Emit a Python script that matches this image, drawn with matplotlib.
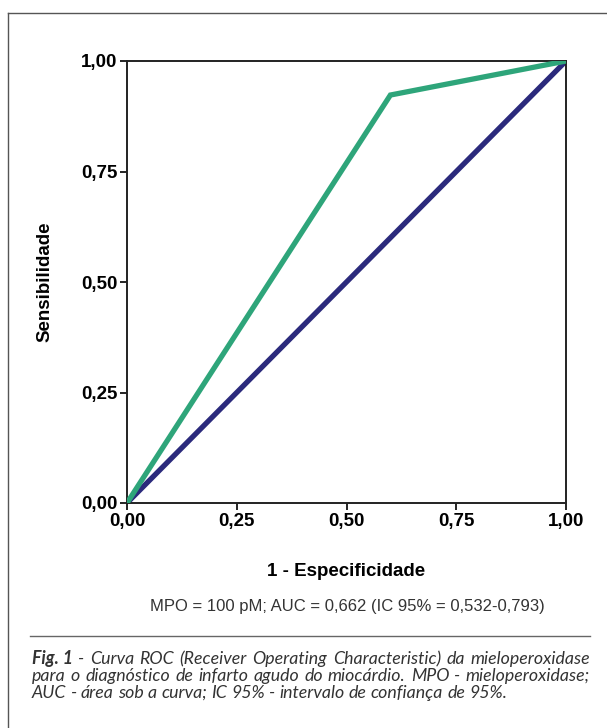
import matplotlib.pyplot as plt
from matplotlib.lines import Line2D

# ROC data
fpr = [0.0, 0.60, 1.0]
tpr = [0.0, 0.923, 1.0]
ref_x = [0.0, 1.0]
ref_y = [0.0, 1.0]
ticks = [0.0, 0.25, 0.50, 0.75, 1.0]
tick_labels = ['0,00', '0,25', '0,50', '0,75', '1,00']

caption_lines = [
    ['- Curva ROC (Receiver Operating Characteristic) da mieloperoxidase', True],
    ['para o diagnóstico de infarto agudo do miocárdio. MPO - mieloperoxidase;', True],
    ['AUC - área sob a curva; IC 95% - intervalo de confiança de 95%.', False],
]

plt.rcParams['font.family'] = ['Liberation Sans', 'DejaVu Sans']

W, H = 607, 728
fig = plt.figure(figsize=(W/100, H/100), dpi=100)
ax = fig.add_axes([127/W, 1-503/H, 439/W, 442/H])

ax.plot(ref_x, ref_y, color='#2b2a7c', lw=3.8, solid_capstyle='round', zorder=2)
ax.plot(fpr, tpr, color='#2ea57a', lw=3.8, solid_capstyle='round',
        solid_joinstyle='miter', zorder=3)

ax.set_xlim(0, 1)
ax.set_ylim(0, 1)
ax.set_xticks(ticks)
ax.set_xticklabels(tick_labels)
ax.set_yticks(ticks)
ax.set_yticklabels(tick_labels)
ax.tick_params(direction='out', length=5, width=1.2, labelsize=13.5, pad=2)
for lab in ax.get_xticklabels() + ax.get_yticklabels():
    lab.set_fontweight('bold')
for sp in ax.spines.values():
    sp.set_linewidth(1.4)
    sp.set_color('#222222')

ax.set_xlabel('1 - Especificidade', fontsize=13.5, fontweight='bold', labelpad=24)
ax.set_ylabel('Sensibilidade', fontsize=13.5, fontweight='bold', labelpad=20)

fig.text(347/W, 1-606/H, 'MPO = 100 pM; AUC = 0,662 (IC 95% = 0,532-0,793)',
         ha='center', va='center', fontsize=12.0, color='#333333')

# frame and separator
fig.add_artist(Line2D([8/W, 8/W], [0, 1-13/H], transform=fig.transFigure,
                      color='#555555', lw=1.0))
fig.add_artist(Line2D([8/W, 1], [1-13/H, 1-13/H], transform=fig.transFigure,
                      color='#555555', lw=1.0))
fig.add_artist(Line2D([30/W, 590/W], [1-636/H, 1-636/H],
                      transform=fig.transFigure, color='#666666', lw=1.0))

# caption, justified between x0 and x1
x0, x1 = 32, 590
cap = dict(fontsize=12.8, style='italic', color='#333333', family=['Lato', 'DejaVu Sans'],
           va='baseline', ha='left')
renderer = fig.canvas.get_renderer()
ys = [664, 681, 698]

def word_w(t, **kw):
    tt = fig.text(0, 0, t, **kw)
    w = tt.get_window_extent(renderer).width
    tt.remove()
    return w

for i, (line, justify) in enumerate(caption_lines):
    words = line.split(' ')
    start = x0
    if i == 0:
        f = fig.text(x0/W, 1-ys[i]/H, 'Fig. 1', fontweight='bold', **cap)
        start = x0 + f.get_window_extent(renderer).width + 5
    widths = [word_w(w_, **cap) for w_ in words]
    if justify:
        gap = (x1 - start - sum(widths)) / (len(words) - 1)
    else:
        gap = word_w('a a', **cap) - 2 * word_w('a', **cap)
    x = start
    for w_, ww in zip(words, widths):
        fig.text(x/W, 1-ys[i]/H, w_, **cap)
        x += ww + gap

fig.savefig('out.png', dpi=100)
